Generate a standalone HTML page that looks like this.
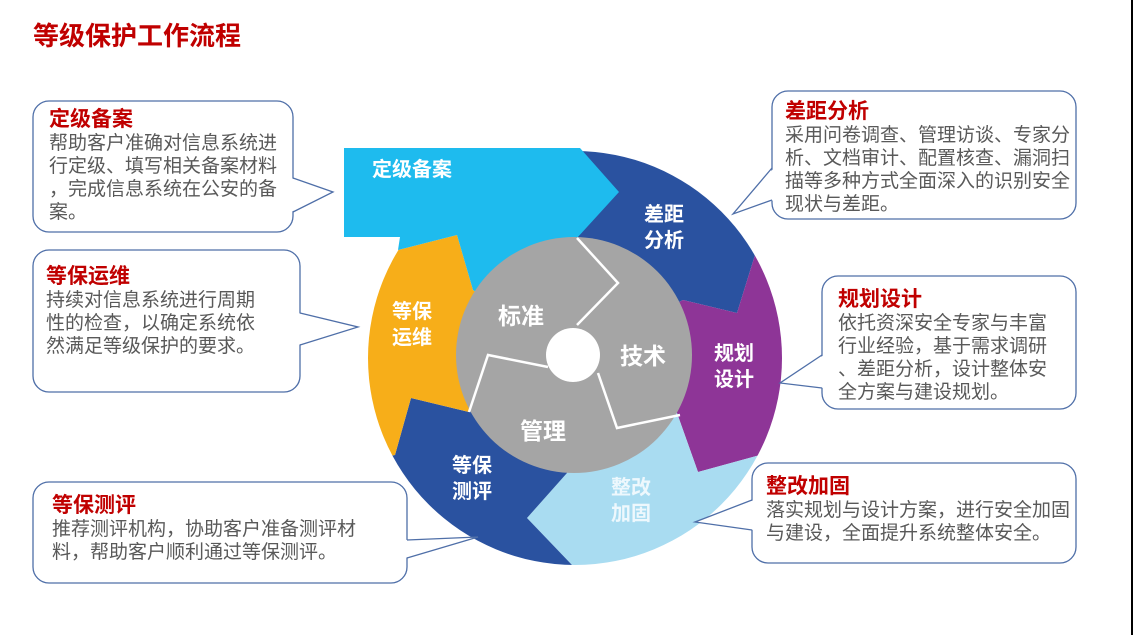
<!DOCTYPE html>
<html><head><meta charset="utf-8"><style>
body{margin:0;width:1133px;height:635px;background:#fff;position:relative;overflow:hidden;font-family:"Liberation Sans","Noto Sans CJK SC",sans-serif}
.t{position:absolute;white-space:nowrap}
.c{position:absolute;white-space:nowrap;font-size:19px;line-height:23px;color:#595959}
.c b{display:block;color:#c00000;font-size:21px;line-height:24px;font-weight:bold}
.w{position:absolute;color:#fff;font-weight:bold;font-size:20px;line-height:26px;text-align:center;white-space:nowrap}
.g{position:absolute;color:#fff;font-weight:bold;font-size:23px;white-space:nowrap}
</style></head><body>
<svg width="1133" height="635" style="position:absolute;left:0;top:0">
<defs><clipPath id="cc"><circle cx="575" cy="358" r="207"/></clipPath></defs>
<rect x="1131" y="0" width="2" height="635" fill="#000"/>
<g clip-path="url(#cc)">
<polygon fill="#2a52a0" points="575,358 560,100 900,100 900,200 755,255 737,313 683,300"/>
<polygon fill="#8e3597" points="575,358 683,300 737,313 755,255 900,250 900,470 760,455 698,472 677,413"/>
<polygon fill="#a9dcf1" points="575,358 677,413 698,472 760,455 850,650 573,650 572,565 527,518 567,473"/>
<polygon fill="#2a52a0" points="575,358 567,473 527,518 572,565 573,650 300,650 300,470 395,455 411,398 469,412"/>
<polygon fill="#f7ae19" points="575,358 469,412 411,398 395,455 300,470 300,250 398,250 457,235 473,290"/>
</g>
<polygon fill="#1ebbee" points="344,148 580,148 619,192 577,238 575,358 473,290 457,235 398,250 400,237 344,237"/>
<circle cx="574" cy="355" r="118" fill="#a5a5a5"/>
<g fill="none" stroke="#fff" stroke-width="2.5">
<polyline points="577,238 618,283 577,325"/>
<polyline points="680,415 617,428 598,373"/>
<polyline points="469,412 488,355 548,367"/>
</g>
<circle cx="573" cy="355" r="27" fill="#fff"/>
<g stroke="#4f6fa8" stroke-width="1.3" fill="#fff">
<rect x="33" y="101" width="260" height="131" rx="16"/>
<rect x="772" y="91" width="304" height="128" rx="16"/>
<rect x="822" y="276" width="254" height="133" rx="16"/>
<rect x="752" y="463" width="324" height="100" rx="16"/>
<rect x="33" y="482" width="374" height="101" rx="16"/>
<rect x="33" y="250" width="267" height="142" rx="16"/>
</g>
<g fill="#fff" stroke="none">
<polygon points="291,178 333,192 291,212"/>
<polygon points="774,168 733,214 774,200"/>
<polygon points="824,355 780,383 824,388"/>
<polygon points="754,500 695,522 754,530"/>
<polygon points="405,540 478,537 405,558"/>
<polygon points="298,313 358,327 298,345"/>
</g>
<g fill="none" stroke="#4f6fa8" stroke-width="1.3">
<polyline points="293,178 333,192 293,212"/>
<polyline points="772,168 733,214 772,200"/>
<polyline points="822,355 780,383 822,388"/>
<polyline points="752,500 695,522 752,530"/>
<polyline points="407,540 478,537 407,558"/>
<polyline points="300,313 358,327 300,345"/>
</g>
</svg>
<div class="t" style="left:33px;top:16px;font-size:26px;font-weight:bold;color:#c00000">等级保护工作流程</div>

<div class="c" style="left:49px;top:108px"><b>定级备案</b>帮助客户准确对信息系统进<br>行定级、填写相关备案材料<br>，完成信息系统在公安的备<br>案。</div>
<div class="c" style="left:785px;top:100px"><b>差距分析</b>采用问卷调查、管理访谈、专家分<br>析、文档审计、配置核查、漏洞扫<br>描等多种方式全面深入的识别安全<br>现状与差距。</div>
<div class="c" style="left:838px;top:288px"><b>规划设计</b>依托资深安全专家与丰富<br>行业经验，基于需求调研<br>、差距分析，设计整体安<br>全方案与建设规划。</div>
<div class="c" style="left:46px;top:265px"><b>等保运维</b>持续对信息系统进行周期<br>性的检查，以确定系统依<br>然满足等级保护的要求。</div>
<div class="c" style="left:766px;top:475px"><b>整改加固</b>落实规划与设计方案，进行安全加固<br>与建设，全面提升系统整体安全。</div>
<div class="c" style="left:52px;top:494px"><b>等保测评</b>推荐测评机构，协助客户准备测评材<br>料，帮助客户顺利通过等保测评。</div>

<div class="w" style="left:372px;top:157px">定级备案</div>
<div class="w" style="left:644px;top:202px">差距<br>分析</div>
<div class="w" style="left:714px;top:341px">规划<br>设计</div>
<div class="w" style="left:611px;top:475px;color:#eef8fd">整改<br>加固</div>
<div class="w" style="left:452px;top:453px">等保<br>测评</div>
<div class="w" style="left:392px;top:299px">等保<br>运维</div>
<div class="g" style="left:498px;top:297px">标准</div>
<div class="g" style="left:620px;top:337px">技术</div>
<div class="g" style="left:520px;top:412px">管理</div>
</body></html>
